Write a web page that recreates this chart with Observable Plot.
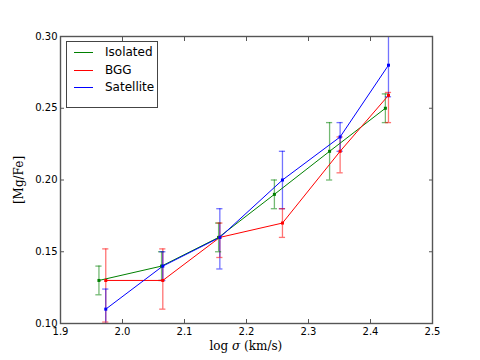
<!DOCTYPE html>
<html><head><meta charset="utf-8">
<script src="https://cdn.jsdelivr.net/npm/d3@7"></script>
<script src="https://cdn.jsdelivr.net/npm/@observablehq/plot@0.6"></script>
<style>
body{margin:0;background:#fff}
#wrap{position:relative;width:480px;height:360px;overflow:hidden}
.lbl{position:absolute;font-family:"DejaVu Serif",serif;font-size:12px;color:#000;white-space:nowrap;line-height:14px}
#legend{position:absolute;left:66px;top:41px;width:90px;height:65px;border:1px solid #444;background:#fff;font-family:"DejaVu Sans",sans-serif;font-size:12px}
#legend .row{position:absolute;left:0;height:17px;line-height:17px}
#legend .sw{position:absolute;left:7px;top:8px;width:19px;height:0;border-top:1px solid}
#legend .tx{position:absolute;left:38px;top:0}
</style>
</head><body><div id="wrap"></div>
<script>
// ---- data ----
const series = ["Isolated", "BGG", "Satellite"];
const colors = ["green", "red", "blue"];

const isoX  = [1.962, 2.063, 2.155, 2.245, 2.334, 2.424];
const isoY  = [0.130, 0.140, 0.160, 0.190, 0.220, 0.250];
const isoLo = [0.120, 0.130, 0.150, 0.180, 0.200, 0.240];
const isoHi = [0.140, 0.150, 0.170, 0.200, 0.240, 0.260];

const bggX  = [1.973, 2.065, 2.157, 2.258, 2.351, 2.429];
const bggY  = [0.130, 0.130, 0.160, 0.170, 0.220, 0.259];
const bggLo = [0.101, 0.110, 0.146, 0.160, 0.205, 0.240];
const bggHi = [0.152, 0.152, 0.170, 0.180, 0.230, 0.261];

const satX  = [1.973, 2.065, 2.157, 2.258, 2.351, 2.429];
const satY  = [0.110, 0.140, 0.160, 0.200, 0.230, 0.280];
const satLo = [0.096, 0.130, 0.138, 0.180, 0.220, 0.258];
const satHi = [0.124, 0.150, 0.180, 0.220, 0.240, 0.302];

const xTicks = [1.9, 2.0, 2.1, 2.2, 2.3, 2.4, 2.5];
const yTicks = [0.10, 0.15, 0.20, 0.25, 0.30];

// ---- table ----
const sets = [[isoX, isoY, isoLo, isoHi], [bggX, bggY, bggLo, bggHi], [satX, satY, satLo, satHi]];
const rows = [];
sets.forEach(([X, Y, L, H], i) => X.forEach((x, j) => rows.push({series: series[i], x, y: Y[j], lo: L[j], hi: H[j]})));
const capHalf = 0.005;

const plot = Plot.plot({
  width: 480, height: 360,
  marginLeft: 60, marginRight: 48, marginTop: 36, marginBottom: 37,
  style: {fontFamily: "DejaVu Sans", fontSize: "10px", color: "#000", background: "#fff"},
  x: {domain: [1.9, 2.5]},
  y: {domain: [0.10, 0.30]},
  color: {domain: series, range: colors},
  marks: [
    Plot.ruleX(rows, {x: "x", y1: "lo", y2: "hi", stroke: "series", strokeOpacity: 0.55, strokeWidth: 1.3, clip: true}),
    Plot.ruleY(rows, {y: "lo", x1: d => d.x - capHalf, x2: d => d.x + capHalf, stroke: "series", strokeOpacity: 0.55, strokeWidth: 1.3, clip: true}),
    Plot.ruleY(rows, {y: "hi", x1: d => d.x - capHalf, x2: d => d.x + capHalf, stroke: "series", strokeOpacity: 0.55, strokeWidth: 1.3, clip: true}),
    Plot.line(rows, {x: "x", y: "y", z: "series", stroke: "series", strokeWidth: 1, clip: true}),
    Plot.dot(rows, {x: "x", y: "y", fill: "series", r: 1.7, symbol: "square", clip: true}),
    Plot.axisX({ticks: xTicks, tickSize: -4, text: null, stroke: "#555", label: null}),
    Plot.axisX({anchor: "top", ticks: xTicks, tickSize: -4, text: null, stroke: "#555", label: null}),
    Plot.axisY({ticks: yTicks, tickSize: -4, text: null, stroke: "#555", label: null}),
    Plot.axisY({anchor: "right", ticks: yTicks, tickSize: -4, text: null, stroke: "#555", label: null}),
    Plot.axisX({ticks: xTicks, tickSize: 0, tickPadding: 4, tickFormat: d3.format(".1f"), label: null}),
    Plot.axisY({ticks: yTicks, tickSize: 0, tickPadding: 3, tickFormat: d3.format(".2f"), label: null}),
    Plot.frame({stroke: "#555", strokeWidth: 1.4})
  ]
});

const wrap = document.getElementById("wrap");
wrap.appendChild(plot);

// axis labels
const xl = document.createElement("div");
xl.className = "lbl";
xl.innerHTML = "log <i>σ</i> (km/s)";
wrap.appendChild(xl);
xl.style.left = (246 - xl.offsetWidth / 2) + "px";
xl.style.top = (346 - xl.offsetHeight / 2) + "px";

const yl = document.createElement("div");
yl.className = "lbl";
yl.textContent = "[Mg/Fe]";
wrap.appendChild(yl);
yl.style.left = (19 - yl.offsetWidth / 2) + "px";
yl.style.top = (180 - yl.offsetHeight / 2) + "px";
yl.style.transform = "rotate(-90deg)";

// legend
const lg = document.createElement("div");
lg.id = "legend";
series.forEach((s, i) => {
  const r = document.createElement("div");
  r.className = "row";
  r.style.top = (2 + i * 17.5) + "px";
  r.innerHTML = `<span class="sw" style="border-color:${colors[i]}"></span><span class="tx">${s}</span>`;
  lg.appendChild(r);
});
wrap.appendChild(lg);
</script>
</body></html>
